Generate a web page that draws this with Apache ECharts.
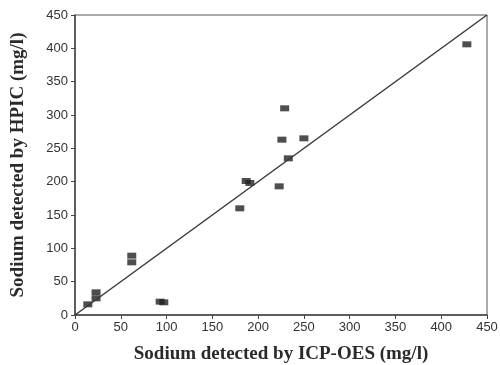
<!DOCTYPE html>
<html>
<head>
<meta charset="utf-8">
<script src="https://cdn.jsdelivr.net/npm/echarts@6/dist/echarts.min.js"></script>
<style>
  html, body { margin: 0; padding: 0; background: #fff; }
  #chart { width: 500px; height: 365px; }
</style>
</head>
<body>
<div id="chart"></div>
<script>
// Sodium concentration measured by two methods (mg/l)
const icpOes = [14, 23, 23, 62, 62, 93, 97, 180, 187, 191, 223, 226, 229, 233, 250, 428];
const hpic   = [16, 25, 34, 79, 89, 20, 19, 160, 201, 198, 193, 263, 310, 235, 265, 406];
const axisTicks = [0, 50, 100, 150, 200, 250, 300, 350, 400, 450];
const identityLine = [[0, 0], [450, 450]];

const points = icpOes.map((x, i) => [x, hpic[i]]);

const serifBold = { fontFamily: 'Liberation Serif', fontWeight: 'bold', fontSize: 19, color: '#2a2a2a' };
const tickFont = { fontFamily: 'Liberation Sans', fontSize: 13, color: '#333' };

const chart = echarts.init(document.getElementById('chart'), null, { renderer: 'canvas' });
chart.setOption({
  animation: false,
  backgroundColor: '#fff',
  grid: {
    left: 75, right: 13, top: 15, bottom: 50,
    containLabel: false, outerBoundsMode: 'none',
    show: true, borderColor: '#555', borderWidth: 1, backgroundColor: 'transparent'
  },
  xAxis: {
    type: 'value', min: axisTicks[0], max: axisTicks[axisTicks.length - 1], interval: 50,
    name: 'Sodium detected by ICP-OES (mg/l)', nameLocation: 'middle', nameGap: 30,
    nameTextStyle: serifBold,
    axisLine: { lineStyle: { color: '#444', width: 1.5 } },
    axisTick: { show: true, length: 4, inside: false, lineStyle: { color: '#444' } },
    axisLabel: Object.assign({ margin: 6 }, tickFont),
    splitLine: { show: false }
  },
  yAxis: {
    type: 'value', min: axisTicks[0], max: axisTicks[axisTicks.length - 1], interval: 50,
    name: 'Sodium detected by HPIC (mg/l)', nameLocation: 'middle', nameGap: 47,
    nameTextStyle: serifBold,
    axisLine: { lineStyle: { color: '#444', width: 1.5 } },
    axisTick: { show: true, length: 4, inside: false, lineStyle: { color: '#444' } },
    axisLabel: Object.assign({ margin: 7 }, tickFont),
    splitLine: { show: false }
  },
  series: [
    {
      type: 'line', data: identityLine, showSymbol: false, silent: true,
      lineStyle: { color: '#3a3a3a', width: 1.5 }
    },
    {
      type: 'scatter', data: points, symbol: 'rect', symbolSize: [9, 6],
      itemStyle: { color: '#222' }
    }
  ]
});
</script>
</body>
</html>
